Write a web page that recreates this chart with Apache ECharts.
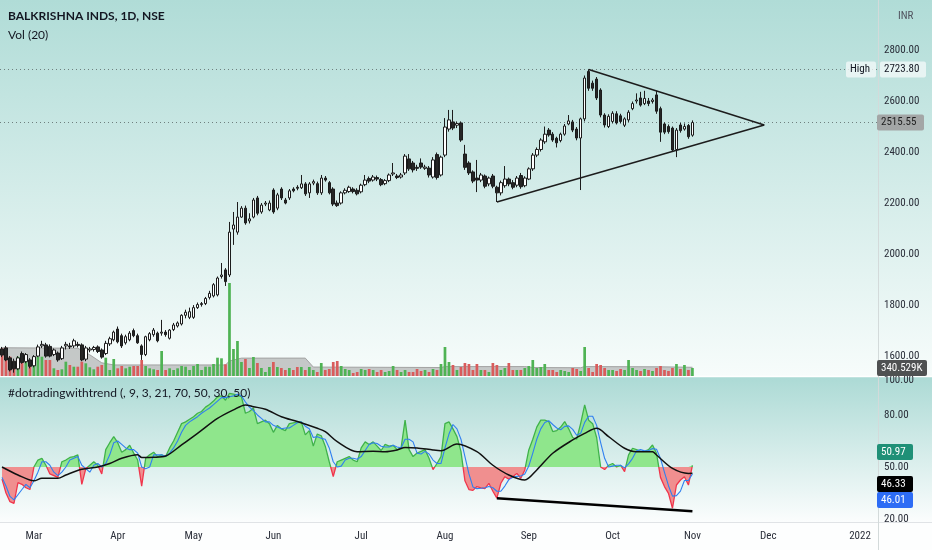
<!DOCTYPE html>
<html>
<head>
<meta charset="utf-8">
<script src="https://cdn.jsdelivr.net/npm/echarts@6/dist/echarts.min.js"></script>
<style>
html,body{margin:0;padding:0;background:#fff;}
#main{width:932px;height:550px;}
</style>
</head>
<body>
<div id="main"></div>
<script>
// trading calendar (weekdays minus NSE holidays, future days as TradingView pads them)
var startDate = '2021-02-17';
var endDate = '2022-01-07';
var holidays = ['2021-03-11','2021-03-29','2021-04-02','2021-04-14','2021-04-21','2021-05-13',
  '2021-07-21','2021-08-19','2021-09-10','2021-10-15','2021-11-04','2021-11-05','2021-11-19'];
var monthNames = ['Jan','Feb','Mar','Apr','May','Jun','Jul','Aug','Sep','Oct','Nov','Dec'];

// [open, close, low, high]
var candles = [
[1628,1604,1596,1636],[1632,1585,1580,1640],[1593,1546,1540,1600],[1580,1550,1535,1590],[1550,1593,1545,1600],
[1610,1575,1570,1618],[1578,1606,1572,1612],[1585,1560,1552,1592],[1562,1598,1556,1604],[1600,1636,1596,1645],
[1640,1646,1632,1660],[1644,1600,1594,1652],[1638,1600,1595,1646],[1606,1624,1600,1630],[1612,1585,1578,1618],
[1590,1632,1585,1640],[1640,1646,1626,1656],[1640,1636,1628,1652],[1640,1660,1632,1668],[1646,1642,1634,1656],
[1644,1585,1580,1650],[1588,1632,1580,1640],[1624,1628,1615,1636],[1626,1634,1618,1640],[1636,1618,1612,1642],
[1624,1596,1590,1630],[1610,1650,1604,1660],[1648,1668,1640,1676],[1664,1694,1658,1700],[1706,1656,1650,1716],
[1680,1640,1632,1688],[1652,1676,1645,1684],[1664,1690,1658,1698],[1700,1680,1674,1708],[1680,1652,1648,1688],
[1640,1606,1585,1646],[1606,1676,1600,1680],[1664,1688,1658,1694],[1684,1702,1676,1710],[1690,1660,1654,1696],
[1690,1694,1680,1742],[1694,1684,1676,1702],[1670,1702,1665,1706],[1704,1722,1698,1730],[1718,1730,1712,1736],
[1726,1760,1720,1764],[1760,1772,1748,1782],[1752,1774,1745,1790],[1752,1790,1746,1800],[1790,1802,1785,1810],
[1802,1806,1794,1812],[1806,1826,1800,1832],[1830,1846,1822,1856],[1836,1880,1830,1886],[1840,1906,1834,1912],
[1912,1918,1904,1965],[1938,1892,1875,1945],[1918,2086,1910,2126],[2098,2114,2036,2165],[2086,2145,2076,2204],
[2145,2180,2142,2188],[2180,2122,2115,2190],[2130,2138,2120,2160],[2145,2212,2140,2220],[2220,2160,2152,2228],
[2165,2192,2158,2200],[2196,2200,2188,2208],[2173,2200,2168,2210],[2251,2165,2158,2258],[2180,2232,2172,2240],
[2255,2220,2212,2262],[2212,2200,2195,2220],[2220,2248,2212,2255],[2255,2248,2242,2262],[2262,2258,2250,2270],
[2260,2275,2255,2310],[2275,2236,2228,2282],[2240,2275,2220,2282],[2278,2284,2270,2292],[2276,2240,2232,2284],
[2240,2298,2232,2310],[2298,2290,2284,2306],[2280,2240,2234,2286],[2255,2196,2188,2262],[2200,2190,2185,2210],
[2200,2240,2194,2246],[2240,2250,2234,2258],[2245,2262,2240,2268],[2255,2245,2238,2262],[2250,2236,2230,2258],
[2244,2270,2238,2276],[2272,2290,2266,2310],[2296,2286,2278,2304],[2290,2302,2284,2310],[2300,2294,2286,2308],
[2292,2272,2266,2298],[2276,2288,2270,2294],[2288,2310,2282,2316],[2314,2318,2306,2357],[2306,2300,2294,2314],
[2302,2310,2296,2318],[2318,2384,2310,2392],[2373,2334,2326,2392],[2357,2330,2320,2365],[2340,2336,2326,2350],
[2357,2341,2334,2375],[2336,2341,2330,2350],[2337,2310,2300,2345],[2302,2369,2296,2380],[2390,2300,2292,2398],
[2310,2380,2304,2386],[2388,2498,2380,2533],[2490,2526,2480,2565],[2518,2494,2486,2565],[2505,2512,2494,2520],
[2514,2447,2440,2520],[2392,2340,2330,2428],[2357,2318,2310,2364],[2322,2286,2278,2328],[2298,2290,2243,2369],
[2290,2310,2282,2318],[2306,2266,2258,2312],[2275,2298,2266,2304],[2306,2266,2258,2314],[2262,2240,2204,2268],
[2240,2280,2230,2288],[2268,2294,2260,2345],[2294,2275,2266,2300],[2280,2262,2254,2290],[2270,2298,2262,2306],
[2308,2264,2256,2318],[2268,2298,2262,2305],[2294,2334,2290,2340],[2334,2388,2326,2396],[2388,2410,2380,2418],
[2410,2447,2402,2454],[2440,2470,2432,2500],[2486,2467,2460,2494],[2470,2447,2440,2478],[2454,2436,2418,2460],
[2445,2470,2438,2476],[2470,2502,2464,2510],[2510,2522,2505,2545],[2518,2486,2478,2526],[2490,2455,2446,2498],
[2455,2530,2251,2535],[2530,2690,2520,2700],[2716,2650,2640,2723.8],[2670,2650,2640,2680],[2686,2612,2604,2694],
[2643,2545,2536,2650],[2545,2506,2496,2552],[2500,2540,2494,2548],[2520,2552,2512,2560],[2550,2514,2508,2560],
[2542,2520,2512,2550],[2505,2530,2498,2536],[2526,2556,2518,2564],[2570,2590,2564,2598],[2600,2604,2590,2630],
[2612,2584,2578,2636],[2590,2610,2584,2640],[2600,2590,2580,2612],[2598,2604,2590,2612],[2624,2560,2550,2640],
[2570,2478,2440,2578],[2510,2478,2470,2516],[2500,2480,2472,2508],[2494,2408,2400,2500],[2410,2486,2380,2494],
[2506,2484,2476,2514],[2490,2500,2484,2512],[2504,2460,2452,2510],[2466,2515.55,2460,2524]
];

// volume, thousands of shares
var volumes = [
1177,1203,820,608,820,680,820,680,680,820,
820,680,680,327,255,285,608,468,395,395,
608,540,370,285,395,468,778,255,723,327,
425,327,395,425,425,680,425,327,285,255,
1063,255,327,255,327,425,395,255,425,510,
255,395,395,510,778,752,497,3953,1148,1488,
595,723,340,808,553,340,170,383,595,383,
340,255,340,255,383,383,255,383,255,170,
553,255,298,595,638,425,298,255,128,170,
298,255,298,255,170,255,170,213,425,255,
170,255,170,170,298,213,255,170,298,255,
510,1233,595,468,255,383,553,510,255,510,
255,255,170,553,468,255,340,553,255,255,
255,340,425,680,340,383,510,255,255,170,
255,213,170,340,298,213,1233,340,170,510,
468,340,255,255,213,298,255,680,340,255,
213,298,255,213,340,425,255,213,340,510,
298,468,255,340.529
];
// Vol (20) average, read at a few bars
var volMa = [[0,1200],[19,1180],[22,900],[25,560],[28,470],[56,470],[57,640],[60,760],[76,760],[78,380],
  [110,360],[111,400],[131,400],[133,360],[145,350],[146,400],[165,390],[173,370]];

// oscillator (#dotradingwithtrend): main line, signal (blue), average (black)
var osc = [
43,35,30,29,41,40,38,37,50,54,
55,51,46,45,44,53,54,55.5,56,57,
40,49,51,53,51,46,60,64,67.5,64,
58.5,60,62.5,58,54,39,55,57,58.5,56,
57,56,61,65,70,75,76,77.5,79,81,
82,84.5,86,88,90.5,91,88.5,92.5,92,91.5,
90.5,81,82,84,75,76,77,75,70,74,
72,71,75,75.5,76,76,68.5,71,62,69,
68,62,53,44.5,53,54,55,56,54,53,
61,64.5,63,64.5,62,59.5,63,62,62.5,60,
61,77,60,56,58,59,60,55,48.5,52,
56,75,76,72,67.5,59,42,37,36.5,38.7,
38,37.5,40.6,36,32,40.6,44.4,43,44.5,46.3,
43.5,48.3,59.8,66,73,77,77,76.2,70.4,71,
73,76.2,72,67,66,75.2,85.8,77,75,67,
50,48.5,51,52,50,51,47.3,57,60.8,60,
59,59,60,62.7,57.9,44,38.7,34.8,26.2,39.6,
42.5,44.4,39.6,50.97
];
var oscSignal = [
44,39,33,31,34,37,40,38,42,47,
53,53,51,47,45,47,50,54,55,56,
51,49,47,51,52,50,52,57,64,65,
63,61,60,60,58,50,49,50,57,57,
57,56,58,61,65,70,74,76,77.5,79,
81,82.5,84,86,88,90,90,90.5,91,92,
91,87.5,84.5,82.5,80,78,76,76,74,73,
72,72.5,72.5,74,75.5,76,73.5,72,67,67.5,
66.5,66,61,53,50,50.5,54,55,55,54.5,
56,59.5,63,64,63.5,62,61.5,61.5,62.5,61.5,
61,66,66,64.5,58,57.5,59,57.5,54,52,
52,61,69,74.5,72,66,56,46,38.5,37.5,
37.7,38,38.7,38,36,36,39,42.7,44,44.6,
44.8,46,50.5,58,66,72,75.7,76.7,74.5,72.5,
71.5,73.4,73.7,71.7,68.3,69.4,75.7,79.3,79.3,74,
64,55,50,50.5,51,51,49.5,51.8,55,59.3,
60,59.3,59.3,60.6,60.2,54.9,46.9,39.2,33.2,33.5,
36.1,42.2,42.2,46.01
];
var oscAvg = [[0,50],[4,45.4],[8,42],[10,43.5],[14,43.5],[16,45.4],[20,48.7],[24,50],[27,52],[30,55],
  [34,57],[35,55.5],[38,55.6],[41,56.3],[45,62.7],[49,69.4],[54,78],[58,82.9],[61,85.8],[63,84.8],
  [66,83.3],[70,79],[74,76.2],[79,72.3],[81,70.4],[84,64.6],[89,58.8],[93,59],[96,58.8],[99,59.8],
  [101,61.3],[104,61],[108,59.8],[110,59.4],[114,63.3],[119,58.8],[123,51],[127,45.4],[131,42.5],[134,48.3],
  [138,57.9],[143,65.6],[146,69.4],[149,72.3],[152,67.5],[156,60.8],[159,58.8],[163,58.8],[164,56.9],[168,49.2],
  [172,46.3],[173,46.33]];

// drawn trendlines [barIndex, value]
var triangleUpper = [[147,2723.8],[191,2506]];
var triangleLower = [[124,2204],[191,2506]];
var divergenceLine = [[124,32],[173,24.4]];

var priceTicks = [1600,1800,2000,2200,2400,2600,2800];
var oscTicks = [20,50,80,100];
var oscMid = 50;
var highPrice = 2723.8, lastPrice = 2515.55;

var FONT = "'Liberation Sans Narrow','Roboto Condensed','DejaVu Sans Condensed',Roboto,sans-serif";
var TITLE_FONT = "Lato,'Noto Sans',sans-serif";

function tradingDays() {
  var out = [];
  var d = new Date(startDate + 'T00:00:00Z');
  var end = new Date(endDate + 'T00:00:00Z');
  while (d <= end) {
    var wd = d.getUTCDay();
    var s = d.toISOString().slice(0, 10);
    if (wd > 0 && wd < 6 && holidays.indexOf(s) < 0) out.push(s);
    d.setUTCDate(d.getUTCDate() + 1);
  }
  return out;
}
var dates = tradingDays();

function isMonthStart(idx) {
  if (idx === 0) return false;
  return dates[idx].slice(5, 7) !== dates[idx - 1].slice(5, 7);
}
function monthLabel(val) {
  var m = parseInt(val.slice(5, 7), 10);
  return m === 1 ? val.slice(0, 4) : monthNames[m - 1];
}

var W = 878; // plot width, price scale to the right
var OSC_TOP = 377, OSC_H = 145;
function xAxisCfg(gridIndex, showLabels) {
  return {
    type: 'category', gridIndex: gridIndex, data: dates, boundaryGap: true,
    axisLine: {show: false}, axisTick: {show: false}, splitLine: {show: false},
    axisLabel: showLabels ? {
      show: true, color: '#2a2e39', fontSize: 11, fontFamily: FONT, margin: 9,
      interval: function (idx) { return isMonthStart(idx); },
      formatter: function (val) { return monthLabel(val); }
    } : {show: false}
  };
}

// green above the 50 line, red below (hard stop at the pixel row of 50)
function splitGradient(y50, up, down) {
  var f = (y50 - OSC_TOP) / OSC_H;
  return {type: 'linear', x: 0, y: OSC_TOP, x2: 0, y2: OSC_TOP + OSC_H, global: true,
    colorStops: [{offset: 0, color: up}, {offset: f, color: up}, {offset: f, color: down}, {offset: 1, color: down}]};
}

var bgGraphics = [
  {id: 'bgMain', type: 'rect', z: -10, shape: {x: 0, y: 0, width: 932, height: 376},
    style: {fill: new echarts.graphic.LinearGradient(0, 0, 0, 1, [{offset: 0, color: '#b0dcd7'}, {offset: 1, color: '#f7fcfb'}])}},
  {id: 'bgOsc', type: 'rect', z: -10, shape: {x: 0, y: 377, width: 932, height: 145},
    style: {fill: new echarts.graphic.LinearGradient(0, 0, 0, 1, [{offset: 0, color: '#acdad5'}, {offset: 1, color: '#fbfdfd'}])}},
  {id: 'bgAxis', type: 'rect', z: -10, shape: {x: 0, y: 522, width: 932, height: 28}, style: {fill: '#fdfefe'}},
  {id: 'sepH', type: 'line', z: -9, shape: {x1: 0, y1: 376.5, x2: 932, y2: 376.5}, style: {stroke: '#ffffff', lineWidth: 1.5}},
  {id: 'sepB', type: 'line', z: -9, shape: {x1: 0, y1: 522.5, x2: 932, y2: 522.5}, style: {stroke: '#e0e3e6', lineWidth: 1}},
  {id: 'sepV', type: 'line', z: -9, shape: {x1: 878.5, y1: 0, x2: 878.5, y2: 550}, style: {stroke: '#d3dada', lineWidth: 1}},
  {id: 't1', type: 'text', z: 50, left: 8, top: 10, style: {text: 'BALKRISHNA INDS, 1D, NSE', fill: '#131722', font: 'bold 12px ' + TITLE_FONT}},
  {id: 't2', type: 'text', z: 50, left: 8, top: 29, style: {text: 'Vol (20)', fill: '#131722', font: '12px ' + TITLE_FONT}},
  {id: 't3', type: 'text', z: 50, left: 8, top: 387, style: {text: '#dotradingwithtrend (, 9, 3, 21, 70, 50, 30, 50)', fill: '#131722', font: '12px ' + TITLE_FONT}},
  {id: 't4', type: 'text', z: 50, left: 898, top: 11, style: {text: 'INR', fill: '#50535e', font: '11px ' + FONT}}
];

var option = {
  animation: false,
  backgroundColor: 'transparent',
  grid: [
    {left: 0, top: 0, width: W, height: 376},
    {left: 0, top: 276, width: W, height: 100},
    {left: 0, top: OSC_TOP, width: W, height: OSC_H}
  ],
  xAxis: [xAxisCfg(0, false), xAxisCfg(1, false), xAxisCfg(2, true)],
  yAxis: [
    {type: 'value', gridIndex: 0, position: 'right', min: 1522, max: 2996,
      axisLine: {show: false}, axisTick: {show: false}, splitLine: {show: false},
      axisLabel: {customValues: priceTicks, color: '#2a2e39', fontSize: 11, fontFamily: FONT, margin: 6,
        formatter: function (v) { return v.toFixed(2); }}},
    {type: 'value', gridIndex: 1, min: 0, max: 4250, show: false, splitLine: {show: false}},
    {type: 'value', gridIndex: 2, position: 'right', min: 18.26, max: 101.9,
      axisLine: {show: false}, axisTick: {show: false}, splitLine: {show: false},
      axisLabel: {customValues: oscTicks, color: '#2a2e39', fontSize: 11, fontFamily: FONT, margin: 6,
        formatter: function (v) { return v.toFixed(2); }}}
  ],
  graphic: bgGraphics,
  series: [
    {id: 'volMa', type: 'line', xAxisIndex: 1, yAxisIndex: 1, data: volMa, symbol: 'none', z: 1,
      lineStyle: {color: '#a3a3a3', width: 1}, areaStyle: {color: 'rgba(155,155,155,0.75)', origin: 'start'}},
    {id: 'vol', type: 'bar', xAxisIndex: 1, yAxisIndex: 1, data: volumes, barWidth: '68%', z: 2,
      itemStyle: {color: function (p) { var c = candles[p.dataIndex]; return c[1] >= c[0] ? '#4fb354' : '#d95c5c'; }}},
    {id: 'price', type: 'candlestick', xAxisIndex: 0, yAxisIndex: 0, data: candles, barWidth: 3, z: 5,
      itemStyle: {color: '#ffffff', color0: '#262626', borderColor: '#1c1c1c', borderColor0: '#1c1c1c', borderWidth: 1},
      markLine: {silent: true, symbol: 'none', label: {show: false},
        lineStyle: {color: '#6f7f7e', type: [1, 3], width: 1},
        data: [{yAxis: highPrice}, {yAxis: lastPrice}]}},
    {id: 'triUp', type: 'line', xAxisIndex: 0, yAxisIndex: 0, data: triangleUpper, symbol: 'none', z: 6,
      lineStyle: {color: '#1c1c1c', width: 1.5}},
    {id: 'triLow', type: 'line', xAxisIndex: 0, yAxisIndex: 0, data: triangleLower, symbol: 'none', z: 6,
      lineStyle: {color: '#1c1c1c', width: 1.5}},
    {id: 'oscFill', type: 'line', xAxisIndex: 2, yAxisIndex: 2, data: osc, symbol: 'none', z: 1,
      lineStyle: {width: 0, opacity: 0}, areaStyle: {origin: oscMid, opacity: 1, color: '#8fe68c'}},
    {id: 'osc', type: 'line', xAxisIndex: 2, yAxisIndex: 2, data: osc, symbol: 'none', z: 3,
      lineStyle: {width: 1.3, color: '#3fb24a'}},
    {id: 'signal', type: 'line', xAxisIndex: 2, yAxisIndex: 2, data: oscSignal, symbol: 'none', z: 3,
      lineStyle: {color: '#2f7ff0', width: 1.1}},
    {id: 'avg', type: 'line', xAxisIndex: 2, yAxisIndex: 2, data: oscAvg, symbol: 'none', z: 4, smooth: 0.3,
      lineStyle: {color: '#111111', width: 1.5}},
    {id: 'div', type: 'line', xAxisIndex: 2, yAxisIndex: 2, data: divergenceLine, symbol: 'none', z: 4,
      lineStyle: {color: '#000000', width: 2.5}}
  ]
};

var chart = echarts.init(document.getElementById('main'));
chart.setOption(option);

function tag(id, x, y, w, text, bg, fg) {
  return [
    {id: id + 'r', type: 'rect', z: 60, shape: {x: x, y: y - 8, width: w, height: 16, r: 2}, style: {fill: bg}},
    {id: id + 't', type: 'text', z: 61, x: x + 4, y: y, style: {text: text, fill: fg, font: '11px ' + FONT, textVerticalAlign: 'middle'}}
  ];
}
var y50 = chart.convertToPixel({yAxisIndex: 2}, oscMid);
var yHigh = chart.convertToPixel({yAxisIndex: 0}, highPrice);
var yLast = chart.convertToPixel({yAxisIndex: 0}, lastPrice);
var tags = [].concat(
  tag('hi', 846, yHigh, 30, 'High', 'rgba(245,250,250,0.75)', '#131722'),
  tag('hv', 880, yHigh, 46, highPrice.toFixed(2), 'rgba(245,250,250,0.75)', '#131722'),
  tag('lp', 877, yLast, 47, lastPrice.toFixed(2), '#a3a6a6', '#1e1e1e'),
  tag('vl', 877, 368, 50, '340.529K', '#4f5152', '#ffffff'),
  tag('o1', 877, 452, 36, osc[osc.length - 1].toFixed(2), '#1f9077', '#ffffff'),
  tag('o2', 877, 484, 36, oscAvg[oscAvg.length - 1][1].toFixed(2), '#000000', '#ffffff'),
  tag('o3', 877, 500, 36, oscSignal[oscSignal.length - 1].toFixed(2), '#2d6cf5', '#ffffff')
);
chart.setOption({
  graphic: bgGraphics.concat(tags),
  series: [
    {id: 'oscFill', areaStyle: {color: splitGradient(y50, '#8fe68c', '#f08f8f')}},
    {id: 'osc', lineStyle: {color: splitGradient(y50, '#3fb24a', '#f0364c')}}
  ]
});
</script>
</body>
</html>
